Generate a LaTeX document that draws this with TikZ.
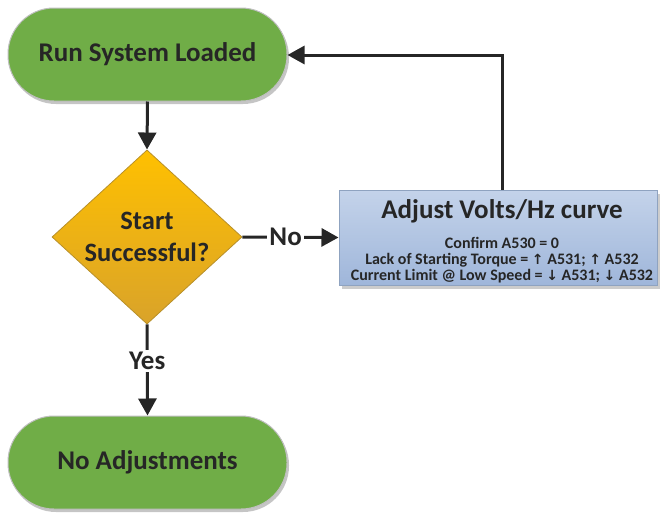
\documentclass[tikz,border=0pt]{standalone}
\usepackage{fontspec}
\setmainfont{Carlito}
\newfontfamily\arrfont{DejaVu Sans}
\usetikzlibrary{shapes.geometric,arrows.meta,shadows}
\definecolor{termgreen}{HTML}{70AD47}
\definecolor{termedge}{HTML}{BFBFBF}
\definecolor{goldtop}{HTML}{FFC000}
\definecolor{goldbot}{HTML}{D9A32A}
\definecolor{goldedge}{HTML}{B8902A}
\definecolor{bluetop}{HTML}{C4D3EA}
\definecolor{bluebot}{HTML}{9FB6DA}
\definecolor{blueedge}{HTML}{8FA3C0}
\definecolor{txt}{HTML}{262626}
\tikzset{
  term/.style={rectangle, rounded corners=46pt, minimum width=279pt, minimum height=93pt,
    fill=termgreen, draw=termedge, line width=1pt, text=txt,
    font=\bfseries\fontsize{27}{30}\selectfont,
    drop shadow={shadow xshift=2pt, shadow yshift=-3pt, fill=black!45, opacity=0.5}},
  decide/.style={diamond, minimum width=190pt, minimum height=140pt, inner sep=0pt,
    top color=goldtop, bottom color=goldbot, draw=goldedge, line width=0.8pt, text=txt,
    align=center, font=\bfseries\fontsize{26.5}{32}\selectfont},
  actbox/.style={rectangle, minimum width=318pt, minimum height=95pt, inner sep=0pt,
    top color=bluetop, bottom color=bluebot, draw=blueedge, line width=1pt, text=txt,
    drop shadow={shadow xshift=3pt, shadow yshift=-4pt, fill=black!40, opacity=0.5}},
  conn/.style={line width=3pt, draw=txt, -{Triangle[length=17pt,width=18pt]}},
  lbl/.style={fill=white, text=txt, inner sep=2pt, font=\bfseries\fontsize{27}{30}\selectfont},
  small/.style={text=txt, inner sep=0pt, font=\bfseries\fontsize{16}{18}\selectfont},
}
\newcommand{\uparr}{{\arrfont\fontsize{14}{16}\selectfont↑}}
\newcommand{\dnarr}{{\arrfont\fontsize{14}{16}\selectfont↓}}
\begin{document}
\begin{tikzpicture}[x=1pt,y=-1pt]
\useasboundingbox (0,0) rectangle (661,517);
\node[term] (run) at (147.5,54.5) {\raisebox{-2pt}{Run System Loaded}};
\node[decide] (start) at (147,237) {Start\\Successful?};
\node[actbox] (adj) at (498,237.5) {};
\node[term] (noadj) at (147.5,462.5) {\raisebox{-1pt}{No Adjustments}};
\node[text=txt, inner sep=0pt, font=\bfseries\fontsize{27}{30}\selectfont] (t1) at (502,211) {Adjust Volts/Hz curve};
\node[small] (t2) at (502,243) {Confirm A530 = 0};
\node[small] (t3) at (502,260) {Lack of Starting Torque = \uparr{} A531; \uparr{} A532};
\node[small] (t4) at (502,276.5) {Current Limit @ Low Speed = \dnarr{} A531; \dnarr{} A532};
\coordinate (up) at (502,190);
\coordinate (corner) at (502,55);
\draw[conn] (run.south) -- (start.north);
\draw[conn] (start.south) -- (noadj.north) node[lbl, pos=0.40] {Yes};
\draw[conn] (start.east) -- (adj.west) node[lbl, pos=0.45] {No};
\draw[conn] (adj.north -| up) -- (corner) -- (corner -| run.east);
\end{tikzpicture}
\end{document}
